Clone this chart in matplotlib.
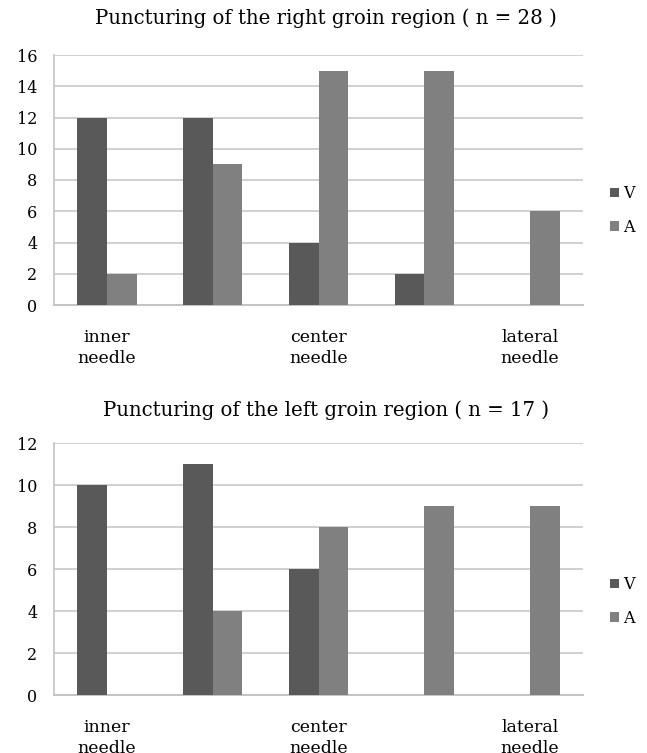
import matplotlib
matplotlib.use("Agg")
import matplotlib.pyplot as plt
import numpy as np

plt.rcParams['font.family'] = ['DejaVu Serif', 'Liberation Serif']

categories = ["inner\nneedle", "", "center\nneedle", "", "lateral\nneedle"]
series_names = ["V", "A"]
right_V = [12, 12, 4, 2, 0]
right_A = [2, 9, 15, 15, 6]
left_V = [10, 11, 6, 0, 0]
left_A = [0, 4, 8, 9, 9]
right_title = "Puncturing of the right groin region ( n = 28 )"
left_title = "Puncturing of the left groin region ( n = 17 )"
right_yticks = list(range(0, 17, 2))
left_yticks = list(range(0, 13, 2))

colors = ["#595959", "#808080"]
W, H = 647, 753
fig = plt.figure(figsize=(W / 100, H / 100), dpi=100)


def panel(rect, V, A, title, title_y, yticks, legend_y):
    ax = fig.add_axes(rect)
    x = np.arange(len(categories))
    bw = 0.28
    ax.bar(x - bw / 2, V, bw, color=colors[0], label=series_names[0], zorder=3)
    ax.bar(x + bw / 2, A, bw, color=colors[1], label=series_names[1], zorder=3)
    ax.set_xlim(-0.5, len(categories) - 0.5)
    ax.set_ylim(yticks[0], yticks[-1])
    ax.set_yticks(yticks)
    ax.set_xticks(x)
    ax.set_xticklabels(categories, fontsize=12.5, linespacing=1.3)
    ax.tick_params(axis='x', length=0, pad=17)
    ax.tick_params(axis='y', length=0, pad=12, labelsize=11.5)
    for s in ['top', 'right']:
        ax.spines[s].set_visible(False)
    ax.spines['left'].set_color('#c4c4c4')
    ax.spines['bottom'].set_color('#c4c4c4')
    ax.spines['left'].set_linewidth(1.2)
    ax.spines['bottom'].set_linewidth(1.5)
    ax.grid(axis='y', color='#c4c4c4', linewidth=1.1, zorder=0)
    ax.set_axisbelow(True)
    fig.text(326 / W, 1 - title_y / H, title, fontsize=14.2, ha='center', va='center')
    ax.legend(loc='center left', bbox_to_anchor=(610 / W, 1 - legend_y / H),
              bbox_transform=fig.transFigure, frameon=False,
              fontsize=11.5, handlelength=0.55, handleheight=0.55, handletextpad=0.25,
              labelspacing=1.05, borderpad=0, borderaxespad=0)
    return ax


panel([54 / W, 1 - 305 / H, 529 / W, (305 - 55) / H], right_V, right_A, right_title,
      18, right_yticks, 210.5)
panel([54 / W, 1 - 695 / H, 529 / W, (695 - 443) / H], left_V, left_A, left_title,
      410, left_yticks, 601.5)

fig.savefig("out.png", dpi=100)
